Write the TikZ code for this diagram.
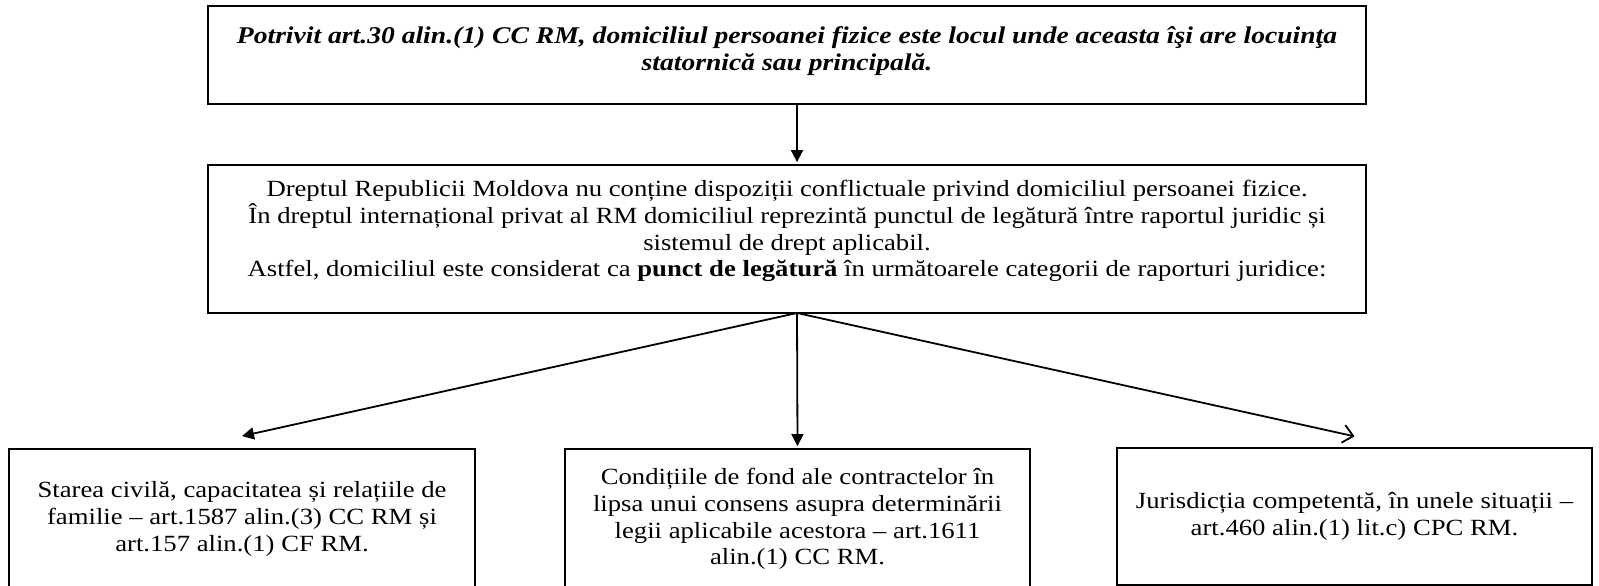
\documentclass[tikz,border=0pt]{standalone}
\usepackage{fontspec}
\setmainfont{Liberation Serif}[FakeStretch=1.15]
\usetikzlibrary{arrows.meta,positioning}

\tikzset{
  frame/.style={draw, rectangle, inner sep=0pt},
  body/.style={align=center, inner sep=0pt, font=\fontsize{23.2}{26.7}\selectfont},
}

\begin{document}
\begin{tikzpicture}[x=1pt, y=1pt, >={Triangle[length=12pt,width=12pt]}, line width=1.8pt]
    \useasboundingbox (0,0) rectangle (1599,586);
    \clip (0,0) rectangle (1599,586);
    \node[frame, minimum width=1158pt, minimum height=98.3pt] (law) at (787,531.15) {};
    \node[body, font=\fontsize{24}{26.7}\selectfont\bfseries\itshape, below=21pt of law.north] (lawtext)
        {Potrivit art.30 alin.(1) CC RM, domiciliul persoanei fizice este locul unde aceasta îşi are locuinţa\\
         statornică sau principală.};
    \node[frame, minimum width=1158pt, minimum height=148pt] (rule) at (787,347) {};
    \node[body, yshift=7.8pt] (ruletext) at (rule)
        {Dreptul Republicii Moldova nu conține dispoziții conflictuale privind domiciliul persoanei fizice.\\
         În dreptul internațional privat al RM domiciliul reprezintă punctul de legătură între raportul juridic și\\
         sistemul de drept aplicabil.\\
         Astfel, domiciliul este considerat ca \textbf{punct de legătură} în următoarele categorii de raporturi juridice:};
    \coordinate (hub) at (797,273);
    \node[frame, body, minimum width=466pt, minimum height=140pt] (civil) at (242,67)
        {Starea civilă, capacitatea și relațiile de\\ familie – art.1587 alin.(3) CC RM și\\ art.157 alin.(1) CF RM.};
    \node[frame, body, minimum width=465pt, minimum height=140pt] (contract) at (797.5,67)
        {Condițiile de fond ale contractelor în\\ lipsa unui consens asupra determinării\\ legii aplicabile acestora – art.1611\\ alin.(1) CC RM.};
    \node[frame, body, minimum width=475pt, minimum height=136.5pt] (forum) at (1354.5,69.5)
        {Jurisdicția competentă, în unele situații –\\ art.460 alin.(1) lit.c) CPC RM.};
    \draw[->, shorten >=2pt] (law.south -| hub) -- (rule.north -| hub);
    \draw[->] (hub) -- ([yshift=12pt]civil.north);
    \draw[->] (hub) -- ([yshift=2pt]contract.north);
    \draw[-{Straight Barb[length=10pt,width=18pt]}] (hub) -- ([yshift=11pt]forum.north);
\end{tikzpicture}
\end{document}
